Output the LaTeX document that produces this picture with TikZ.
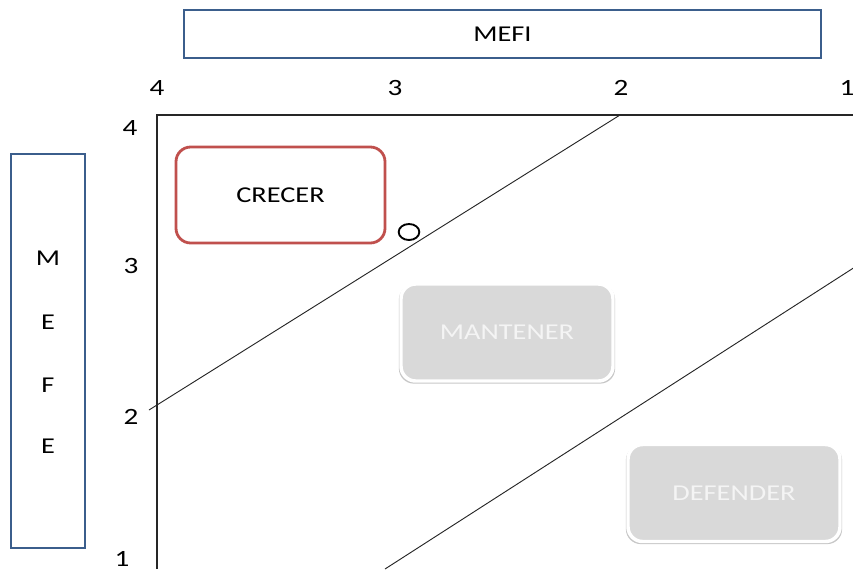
\documentclass[tikz,border=0pt]{standalone}
\usepackage{fontspec}
\setmainfont{Carlito}[FakeStretch=1.25]
\usetikzlibrary{shadows,shapes.geometric}
\definecolor{axisblue}{HTML}{3B5E8C}
\definecolor{growred}{HTML}{C0504D}
\definecolor{boxgray}{HTML}{D9D9D9}
\definecolor{paletext}{HTML}{F4F4F4}
\begin{document}
\begin{tikzpicture}[x=0.75pt,y=-0.75pt,
  every node/.style={font=\fontsize{17}{20}\selectfont, inner sep=0pt},
  axisbox/.style={draw=axisblue, line width=2.1pt, fill=white},
  tick/.style={font=\fontsize{17.5}{20}\selectfont},
  growbox/.style={draw=growred, line width=2.1pt, fill=white, rounded corners=11pt,
    minimum width=156.75pt, minimum height=72pt},
  zonebox/.style={draw=white, line width=2.6pt, fill=boxgray, rounded corners=11pt,
    minimum width=159pt, minimum height=72.75pt, text=paletext,
    drop shadow={shadow xshift=0pt, shadow yshift=-1.2pt, shadow scale=1.02,
      opacity=0.22, fill=black}},
  framelines/.style={draw=black!85, line width=0.8pt},
  splitline/.style={draw=black!85, line width=0.7pt}]
\useasboundingbox (0,0) rectangle (853,569);
\clip (0,0) rectangle (853,569);

% axis title boxes
\node[axisbox, minimum width=477.75pt, minimum height=36pt] (mefi) at (502.5,34) {MEFI};
\node[axisbox, minimum width=55.5pt, minimum height=295.5pt] (mefe) at (48,351) {};
\node (mefeM)  at (48,258) {M};
\node (mefeE1) at (48,322) {E};
\node (mefeF)  at (48,385) {F};
\node (mefeE2) at (48,446) {E};

% scale values
\node[tick] (top4) at (157,88) {4};
\node[tick] (top3) at (395,88) {3};
\node[tick] (top2) at (621,88) {2};
\node[tick] (top1) at (847,88) {1};
\node[tick] (left4) at (130,128) {4};
\node[tick] (left3) at (131,266) {3};
\node[tick] (left2) at (131,417) {2};
\node[tick] (left1) at (122,559) {1};

% chart frame
\coordinate (corner) at (157,115);
\coordinate (rightend) at (853,115);
\coordinate (bottomend) at (157,569);
\draw[framelines] (bottomend) -- (corner) -- (rightend);

% dividing lines
\coordinate (upperA) at (149,410);
\coordinate (upperB) at (620,115);
\coordinate (lowerA) at (385,569);
\coordinate (lowerB) at (855,267);
\draw[splitline] (upperA) -- (upperB);
\draw[splitline] (lowerA) -- (lowerB);

% marker on the upper line
\node[draw=black, line width=1.4pt, ellipse, minimum width=15.5pt, minimum height=12pt] (mark) at (409,232) {};

% strategy zones
\node[growbox] (crecer) at (280.5,195) {CRECER};
\node[zonebox] (mantener) at (507,332.5) {MANTENER};
\node[zonebox] (defender) at (734,493) {DEFENDER};
\end{tikzpicture}
\end{document}
